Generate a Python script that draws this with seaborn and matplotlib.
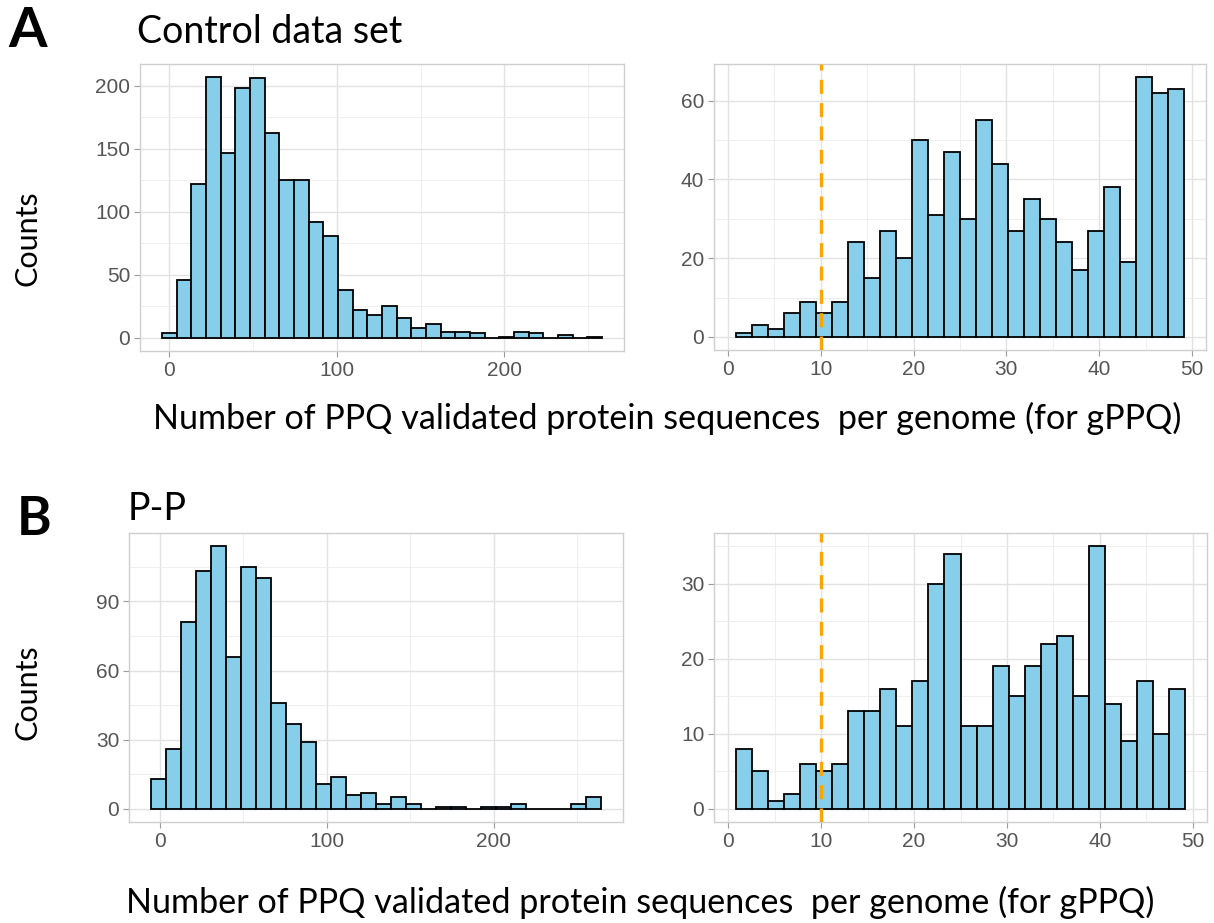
import numpy as np
import pandas as pd
import matplotlib
matplotlib.use("Agg")
import matplotlib.pyplot as plt
from matplotlib.ticker import MultipleLocator
import seaborn as sns

# bar heights (ggplot-style histograms)
ctrl_all_counts = [4, 46, 122, 207, 147, 198, 206, 163, 125, 125, 92, 81, 38, 22, 18,
                   25, 16, 8, 11, 5, 5, 4, 0, 1, 5, 4, 0, 2, 0, 1]
ctrl_all_range = (-4.4, 258.4)
ctrl_low_counts = [1, 3, 2, 6, 9, 6, 9, 24, 15, 27, 20, 50, 31, 47, 30, 55, 44, 27,
                   35, 30, 24, 17, 27, 38, 19, 66, 62, 63]
ctrl_low_range = (0.9, 49.1)
pp_all_counts = [13, 26, 81, 103, 114, 66, 105, 100, 46, 37, 29, 11, 14, 6, 7,
                 2, 5, 2, 0, 1, 1, 0, 1, 1, 2, 0, 0, 0, 2, 5]
pp_all_range = (-5.2, 264.2)
pp_low_counts = [8, 5, 1, 2, 6, 5, 6, 13, 13, 16, 11, 17, 30, 34, 11, 11, 19, 15,
                 19, 22, 23, 15, 35, 14, 9, 17, 10, 16]
pp_low_range = (0.9, 49.1)
cutoff = 10

xlabel = "Number of PPQ validated protein sequences  per genome (for gPPQ)"

sns.set_theme(style="whitegrid")
plt.rcParams["font.family"] = ["Liberation Sans", "DejaVu Sans"]

W, H = 1214, 923
fig = plt.figure(figsize=(W / 100, H / 100), dpi=100)
fig.patch.set_facecolor("white")


def box(l, t, r, b):
    return [l / W, 1 - b / H, (r - l) / W, (b - t) / H]


def hist_panel(rect, counts, brange, xmaj, ymaj, vline=None):
    ax = fig.add_axes(rect)
    n = len(counts)
    edges = np.linspace(brange[0], brange[1], n + 1)
    mids = (edges[:-1] + edges[1:]) / 2
    df = pd.DataFrame({"x": mids, "n": counts})
    sns.histplot(data=df, x="x", weights="n", bins=n, binrange=brange,
                 color="#87CEEB", edgecolor="black", linewidth=1.3, alpha=1,
                 ax=ax, zorder=3)
    if vline is not None:
        ax.axvline(vline, color="#FFA500", lw=2.4, ls=(0, (4.2, 2.8)), zorder=4)
    ax.use_sticky_edges = False
    ax.margins(x=0.05, y=0.05)
    ax.xaxis.set_major_locator(MultipleLocator(xmaj))
    ax.xaxis.set_minor_locator(MultipleLocator(xmaj / 2))
    ax.yaxis.set_major_locator(MultipleLocator(ymaj))
    ax.yaxis.set_minor_locator(MultipleLocator(ymaj / 2))
    ax.grid(True, which="major", color="#E2E2E2", lw=1.0)
    ax.grid(True, which="minor", color="#EDEDED", lw=0.6)
    ax.set_axisbelow(True)
    for s in ax.spines.values():
        s.set_color("#CFCFCF")
        s.set_linewidth(1.0)
    ax.tick_params(axis="both", which="major", length=4, width=0.8, color="#9A9A9A",
                   labelsize=15, labelcolor="#555555", pad=3, bottom=True, left=True)
    ax.tick_params(which="minor", length=0)
    ax.set_xlabel("")
    ax.set_ylabel("")
    return ax


hist_panel(box(140, 64, 624, 351), ctrl_all_counts, ctrl_all_range, 100, 50)
hist_panel(box(714, 64, 1206, 350), ctrl_low_counts, ctrl_low_range, 10, 20, vline=cutoff)
hist_panel(box(129, 533, 623, 822), pp_all_counts, pp_all_range, 100, 30)
hist_panel(box(714, 533, 1207, 822), pp_low_counts, pp_low_range, 10, 10, vline=cutoff)

tfont = ["Lato", "DejaVu Sans"]
fig.text(8 / W, 1 - 47 / H, "A", fontsize=40, family=tfont, weight="bold",
         color="black", va="baseline")
fig.text(17 / W, 1 - 535 / H, "B", fontsize=38, family=tfont, weight="bold",
         color="black", va="baseline")
fig.text(137 / W, 1 - 43 / H, "Control data set", fontsize=27, family=tfont,
         color="black", va="baseline")
fig.text(128 / W, 1 - 520 / H, "P-P", fontsize=27, family=tfont,
         color="black", va="baseline")
fig.text(27 / W, 1 - 238 / H, "Counts", fontsize=22, family=tfont, rotation=90,
         color="black", ha="center", va="center")
fig.text(27 / W, 1 - 692 / H, "Counts", fontsize=22, family=tfont, rotation=90,
         color="black", ha="center", va="center")
fig.text(667 / W, 1 - 418 / H, xlabel, fontsize=24.6, family=tfont, color="black",
         ha="center", va="center")
fig.text(640 / W, 1 - 902 / H, xlabel, fontsize=24.6, family=tfont, color="black",
         ha="center", va="center")

fig.savefig("out.png", dpi=100)
